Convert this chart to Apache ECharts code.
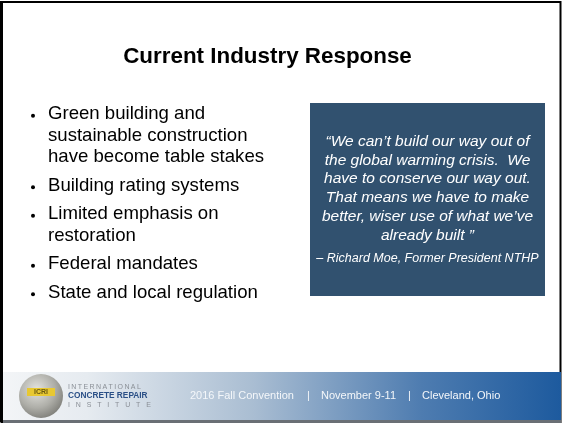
<!DOCTYPE html>
<html>
<head>
<meta charset="utf-8">
<script src="https://cdn.jsdelivr.net/npm/echarts@6/dist/echarts.min.js"></script>
<style>
    html, body { margin: 0; padding: 0; background: #fff; }
    #main { width: 563px; height: 424px; }
</style>
</head>
<body>
<div id="main"></div>
<script>
// slide texts
var titleText = 'Current Industry Response';
// each bullet is a list of wrapped lines
var bullets = [
    ['Green building and', 'sustainable construction', 'have become table stakes'],
    ['Building rating systems'],
    ['Limited emphasis on', 'restoration'],
    ['Federal mandates'],
    ['State and local regulation']
];
var quoteLines = [
    '\u201cWe can\u2019t build our way out of',
    'the global warming crisis.  We',
    'have to conserve our way out.',
    'That means we have to make',
    'better, wiser use of what we\u2019ve',
    'already built \u201d'
];
var quoteAuthor = '\u2013 Richard Moe, Former President NTHP';
var logoLines = [
    'I\u2009N\u2009T\u2009E\u2009R\u2009N\u2009A\u2009T\u2009I\u2009O\u2009N\u2009A\u2009L',
    'CONCRETE REPAIR',
    'I   N   S   T   I   T   U   T   E'
];
var footerParts = ['2016 Fall Convention', '|', 'November 9-11', '|', 'Cleveland, Ohio'];

var FONT = '"Liberation Sans", Arial, sans-serif';

var myChart = echarts.init(document.getElementById('main'));

var elements = [];

// slide frame
elements.push({
    type: 'rect',
    shape: { x: 1.5, y: 2, width: 559, height: 420 },
    style: { fill: '#fff', stroke: '#000', lineWidth: 2 }
});
elements.push({
    type: 'rect',
    shape: { x: 0, y: 1, width: 3, height: 421 },
    style: { fill: '#000' }
});

// title
elements.push({
    type: 'text',
    x: 267.5,
    y: 57,
    style: {
        text: titleText,
        font: 'bold 22.4px ' + FONT,
        fill: '#000',
        textAlign: 'center',
        textVerticalAlign: 'middle'
    }
});

// bullets (y is the middle of the x-height)
var y = 115.7;
bullets.forEach(function (lines, i) {
    if (i > 0) y += 28.5;
    elements.push({
        type: 'circle',
        shape: { cx: 33, cy: y, r: 2 },
        style: { fill: '#000' }
    });
    lines.forEach(function (line, j) {
        if (j > 0) y += 21.5;
        elements.push({
            type: 'text',
            x: 48,
            y: y - 1.5,
            style: {
                text: line,
                font: '18.6px ' + FONT,
                fill: '#000',
                textAlign: 'left',
                textVerticalAlign: 'middle'
            }
        });
    });
});

// quote box
elements.push({
    type: 'rect',
    shape: { x: 310, y: 103, width: 235, height: 193 },
    style: { fill: '#31516f' }
});
quoteLines.forEach(function (line, i) {
    elements.push({
        type: 'text',
        x: 427.5,
        y: 141.5 + i * 18.8,
        style: {
            text: line,
            font: 'italic 15.5px ' + FONT,
            fill: '#fff',
            textAlign: 'center',
            textVerticalAlign: 'middle'
        }
    });
});
elements.push({
    type: 'text',
    x: 427.5,
    y: 258.5,
    style: {
        text: quoteAuthor,
        font: 'italic 12.5px ' + FONT,
        fill: '#fff',
        textAlign: 'center',
        textVerticalAlign: 'middle'
    }
});

// footer band
elements.push({
    type: 'rect',
    shape: { x: 3, y: 372, width: 558, height: 48 },
    style: {
        fill: new echarts.graphic.LinearGradient(0, 0, 1, 0, [
            { offset: 0, color: '#f3f5f7' },
            { offset: 0.15, color: '#e6ebf0' },
            { offset: 0.45, color: '#a9bdd2' },
            { offset: 0.75, color: '#4e7cb0' },
            { offset: 1, color: '#1d5a9e' }
        ])
    }
});
elements.push({
    type: 'rect',
    shape: { x: 3, y: 420, width: 558, height: 3 },
    style: { fill: '#6a6f75' }
});

// logo globe
elements.push({
    type: 'circle',
    shape: { cx: 41, cy: 396, r: 22 },
    style: {
        fill: new echarts.graphic.RadialGradient(0.4, 0.35, 0.7, [
            { offset: 0, color: '#e4e4e0' },
            { offset: 0.6, color: '#aeaea8' },
            { offset: 1, color: '#7d7d78' }
        ])
    }
});
elements.push({
    type: 'rect',
    shape: { x: 27, y: 388, width: 28, height: 8 },
    style: { fill: '#e8c832' }
});
elements.push({
    type: 'text',
    x: 41,
    y: 392,
    style: {
        text: 'ICRI',
        font: 'bold 7px ' + FONT,
        fill: '#6b5a10',
        textAlign: 'center',
        textVerticalAlign: 'middle'
    }
});
var logoStyles = [
    { font: '7px ' + FONT, fill: '#8a8f96' },
    { font: 'bold 8.3px ' + FONT, fill: '#2a4f86' },
    { font: '7px ' + FONT, fill: '#8a8f96' }
];
logoLines.forEach(function (line, i) {
    elements.push({
        type: 'text',
        x: 68,
        y: 387 + i * 9,
        style: {
            text: line,
            font: logoStyles[i].font,
            fill: logoStyles[i].fill,
            textAlign: 'left',
            textVerticalAlign: 'middle'
        }
    });
});

// footer text
var footerX = [190, 307, 321, 408, 422];
footerParts.forEach(function (part, i) {
    elements.push({
        type: 'text',
        x: footerX[i],
        y: 396,
        style: {
            text: part,
            font: '11px ' + FONT,
            fill: '#f4f7fa',
            textAlign: 'left',
            textVerticalAlign: 'middle'
        }
    });
});

myChart.setOption({
    animation: false,
    graphic: { elements: elements }
});
</script>
</body>
</html>
